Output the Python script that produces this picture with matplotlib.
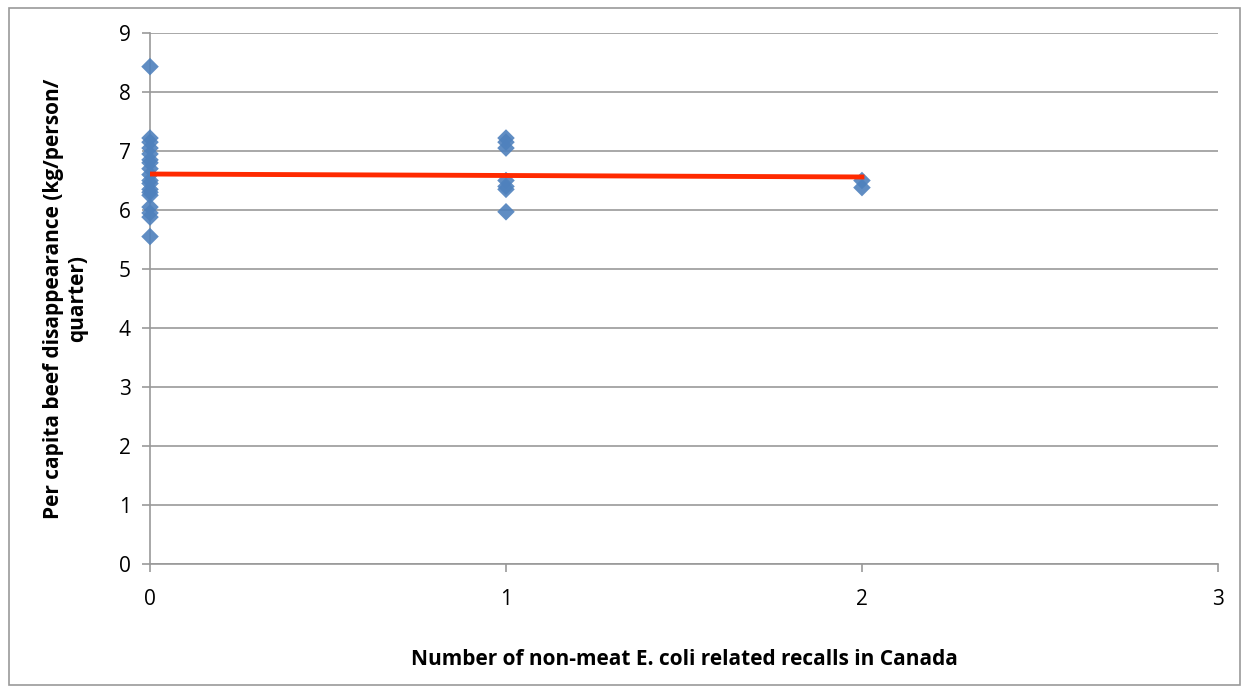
import matplotlib.pyplot as plt
from matplotlib.patches import Rectangle

plt.rc('font', family=['Open Sans', 'DejaVu Sans'], size=13)

# recalls count and beef disappearance (kg/person/quarter)
recalls = [0] * 18 + [1] * 7 + [2] * 2
beef = [8.43, 7.22, 7.15, 7.05, 6.95, 6.85, 6.80, 6.70, 6.60, 6.50, 6.45,
        6.35, 6.30, 6.25, 6.05, 5.95, 5.88, 5.55,
        7.22, 7.15, 7.05, 6.50, 6.40, 6.35, 5.97,
        6.50, 6.38]
trend_x = [0, 2]
trend_y = [6.61, 6.56]

fig = plt.figure(figsize=(12.47, 6.89), dpi=100)
ax = fig.add_axes([0.1203, 0.1814, 0.8564, 0.7707])

ax.scatter(recalls, beef, marker='D', s=80, color='#4f81bd', alpha=0.9,
           edgecolors='none', zorder=3, clip_on=False)
ax.plot(trend_x, trend_y, color='#ff2a00', lw=3.5, zorder=4)

ax.set_xlim(0, 3)
ax.set_ylim(0, 9)
ax.set_xticks([0, 1, 2, 3])
ax.set_yticks(range(10))
ax.yaxis.grid(True, color='#999999', lw=1.2)
ax.set_axisbelow(True)
for s in ['top', 'right']:
    ax.spines[s].set_visible(False)
for s in ['left', 'bottom']:
    ax.spines[s].set_color('#999999')
    ax.spines[s].set_linewidth(1.2)
ax.tick_params(axis='both', colors='#999999', length=6, width=1.2,
               labelcolor='black', labelsize=15)
ax.tick_params(axis='x', pad=12)
ax.tick_params(axis='y', pad=8)

ax.set_xlabel('Number of non-meat E. coli related recalls in Canada',
              fontweight='bold', fontsize=15, labelpad=28)
ax.set_ylabel('Per capita beef disappearance (kg/person/\nquarter)',
              fontweight='bold', fontsize=15, labelpad=22)

fig.patches.append(Rectangle((0.007, 0.006), 0.987, 0.983, transform=fig.transFigure,
                             fill=False, edgecolor='#999999', lw=1.2))

fig.savefig('out.png', dpi=100)
